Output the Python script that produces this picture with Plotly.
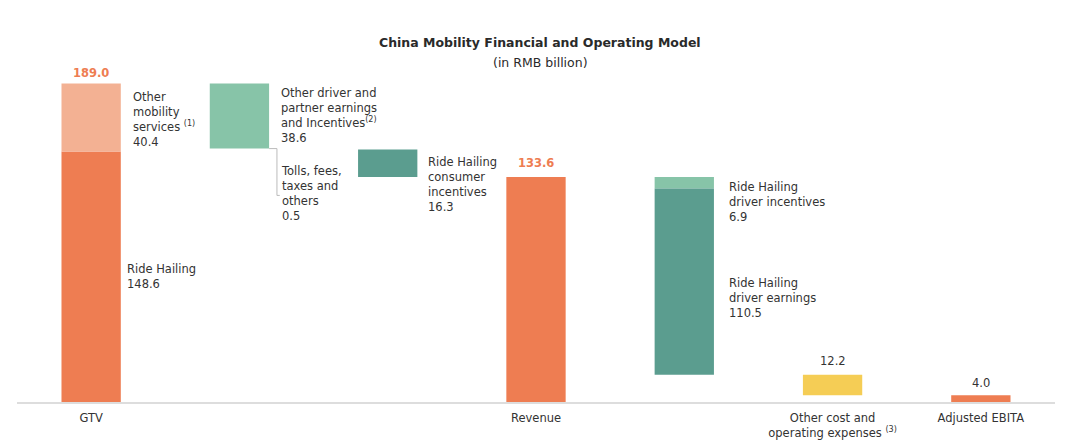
import plotly.graph_objects as go

# --- Data (RMB billion) ---
positions = [0, 1, 2, 3, 4, 5, 6]
tick_positions = [0, 3, 5, 6]
tick_labels = ["GTV", "Revenue",
               "Other cost and<br>operating expenses <sup>(3)</sup>", "Adjusted EBITA"]

gtv_ride_hailing = 148.6
gtv_other_mobility = 40.4
driver_partner_earnings = 38.6
tolls_fees = 0.5
consumer_incentives = 16.3
revenue = 133.6
driver_incentives = 6.9
driver_earnings = 110.5
other_cost = 12.2
adjusted_ebita = 4.0

# --- Derived bases for the waterfall ---
gtv = gtv_ride_hailing + gtv_other_mobility
base_driver_partner = gtv - driver_partner_earnings
base_consumer = base_driver_partner - tolls_fees - consumer_incentives
base_driver_inc = revenue - driver_incentives
base_driver_earn = base_driver_inc - driver_earnings
base_other_cost = base_driver_earn - other_cost

ORANGE = "#EE7D52"
LIGHT_ORANGE = "#F3B193"
LIGHT_GREEN = "#87C4A8"
TEAL = "#5B9D8F"
YELLOW = "#F5CD55"
TEXT = "#333333"
FONT = "DejaVu Sans"
SIZE = 11.5

fig = go.Figure()
fig.add_bar(x=[positions[0], positions[3], positions[6]],
            y=[gtv_ride_hailing, revenue, adjusted_ebita],
            base=[0, 0, 0], marker_color=ORANGE)
fig.add_bar(x=[positions[0]], y=[gtv_other_mobility],
            base=[gtv_ride_hailing], marker_color=LIGHT_ORANGE)
fig.add_bar(x=[positions[1], positions[4]],
            y=[driver_partner_earnings, driver_incentives],
            base=[base_driver_partner, base_driver_inc], marker_color=LIGHT_GREEN)
fig.add_bar(x=[positions[2], positions[4]],
            y=[consumer_incentives, driver_earnings],
            base=[base_consumer, base_driver_earn], marker_color=TEAL)
fig.add_bar(x=[positions[5]], y=[other_cost],
            base=[base_other_cost], marker_color=YELLOW)
fig.update_traces(width=0.4, marker_line_width=0, hoverinfo="skip")

# --- Labels ---
def label(x, y, text):
    fig.add_annotation(x=x, y=y, text=text, showarrow=False, xanchor="left",
                       yanchor="middle", align="left",
                       font=dict(family=FONT, size=SIZE, color=TEXT))

def total(x, y, text, color=TEXT, bold=False):
    fig.add_annotation(x=x, y=y, text=f"<b>{text}</b>" if bold else text,
                       showarrow=False, xanchor="center", yanchor="middle",
                       font=dict(family=FONT, size=SIZE, color=color))

total(0, 195.5, f"{gtv:.1f}", ORANGE, bold=True)
label(0.27, 167.7, f"Other<br>mobility<br>services <sup>(1)</sup><br>{gtv_other_mobility}")
label(0.23, 74.3, f"Ride Hailing<br>{gtv_ride_hailing}")
label(1.27, 170.3, f"Other driver and<br>partner earnings<br>and Incentives<sup>(2)</sup><br>{driver_partner_earnings}")
label(1.27, 123.5, f"Tolls, fees,<br>taxes and<br>others<br>{tolls_fees}")
label(2.255, 129.1, f"Ride Hailing<br>consumer<br>incentives<br>{consumer_incentives}")
total(3, 141.6, f"{revenue:.1f}", ORANGE, bold=True)
label(4.29, 118.8, f"Ride Hailing<br>driver incentives<br>{driver_incentives}")
label(4.29, 61.9, f"Ride Hailing<br>driver earnings<br>{driver_earnings}")
total(5, 24.3, f"{other_cost:.1f}")
total(6, 11.3, f"{adjusted_ebita:.1f}")

# title and subtitle
fig.add_annotation(x=0.504, y=1.068, xref="paper", yref="paper", showarrow=False,
                   text="<b>China Mobility Financial and Operating Model</b>",
                   xanchor="center", yanchor="middle",
                   font=dict(family=FONT, size=12.5, color="#2a2a2a"))
fig.add_annotation(x=0.504, y=1.006, xref="paper", yref="paper", showarrow=False,
                   text="(in RMB billion)", xanchor="center", yanchor="middle",
                   font=dict(family=FONT, size=12.5, color="#2a2a2a"))

# bracket for tolls, fees, taxes
fig.add_shape(type="path", xref="x", yref="y",
              path=f"M 1.2,{base_driver_partner} L 1.253,{base_driver_partner} "
                   f"L 1.253,122.6 L 1.272,122.6",
              line=dict(color="#BBBBBB", width=1))

fig.update_layout(
    width=1080, height=446,
    barmode="overlay", showlegend=False,
    plot_bgcolor="white", paper_bgcolor="white",
    margin=dict(l=9, r=33, t=57, b=52),
    xaxis=dict(tickmode="array", tickvals=tick_positions, ticktext=tick_labels,
               range=[-0.5, 6.5], showline=True, linecolor="#DDDDDD", linewidth=1.5,
               showgrid=False, zeroline=False, ticks="", ticklabelstandoff=4,
               tickfont=dict(family=FONT, size=SIZE, color=TEXT)),
    yaxis=dict(range=[0, 200], visible=False, showgrid=False, zeroline=False),
)

fig.write_html("out.html")
